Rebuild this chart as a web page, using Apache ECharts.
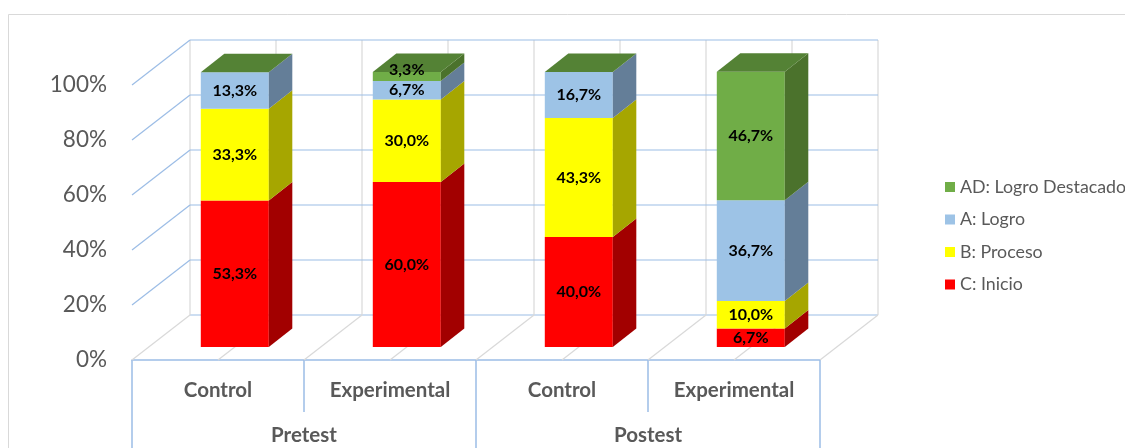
<!DOCTYPE html>
<html>
<head>
<meta charset="utf-8">
<script src="https://cdn.jsdelivr.net/npm/echarts@6/dist/echarts.min.js"></script>
<style>
html,body{margin:0;padding:0;background:#fff;}
#chart{width:1125px;height:448px;}
</style>
</head>
<body>
<div id="chart"></div>
<script>
// ---- data ----
const categories = ['Control', 'Experimental', 'Control', 'Experimental'];
const groups = ['Pretest', 'Postest'];
const seriesNames = ['C: Inicio', 'B: Proceso', 'A: Logro', 'AD: Logro Destacado'];
const inicio = [53.3, 60.0, 40.0, 6.7];
const proceso = [33.3, 30.0, 43.3, 10.0];
const logro = [13.3, 6.7, 16.7, 36.7];
const destacado = [0, 3.3, 0, 46.7];
const yTicks = [0, 20, 40, 60, 80, 100];

// ---- styles ----
const frontColors = ['#FF0000', '#FFFF00', '#9DC3E6', '#70AD47'];
const sideColors = ['#A20000', '#A6A600', '#647E98', '#4B722C'];
const topColor = '#548235';
const gridBlue = '#9CBDE6';
const floorGray = '#D9D9D9';
const textGray = '#595959';
const FONT = 'Lato, "Open Sans", sans-serif';

// 3D projection constants (pixels)
const DEPTH = [58, -45];
const BAR_OFF = [16.8, -13];
const BAR_DEPTH = [23.5, -18.5];
const BAR_W = 68;
const BACK_DIVS = 8;

const valueSets = [inicio, proceso, logro, destacado];

function fmt(v) { return v.toFixed(1).replace('.', ',') + '%'; }

function makeSeries(si) {
  const vals = valueSets[si];
  const data = vals.map((v, i) => {
    let base = 0;
    for (let k = 0; k < si; k++) base += valueSets[k][i];
    return [i, base, v];
  });
  return {
    name: seriesNames[si],
    type: 'custom',
    z: 10 + si,
    itemStyle: { color: frontColors[si] },
    data: data,
    encode: { x: 0, y: [1, 2] },
    renderItem: function (params, api) {
      const cat = api.value(0), base = api.value(1), val = api.value(2);
      const p0 = api.coord([cat, base]);
      const p1 = api.coord([cat, base + val]);
      const cx = p0[0] + BAR_OFF[0];
      const x1 = cx - BAR_W / 2, x2 = cx + BAR_W / 2;
      const y0 = p0[1] + BAR_OFF[1];
      const y1 = p1[1] + BAR_OFF[1];
      const sx = BAR_DEPTH[0], sy = BAR_DEPTH[1];
      const children = [
        { type: 'rect', shape: { x: x1, y: y1, width: BAR_W, height: y0 - y1 },
          style: { fill: frontColors[si] } },
        { type: 'polygon', shape: { points: [[x2, y1], [x2 + sx, y1 + sy], [x2 + sx, y0 + sy], [x2, y0]] },
          style: { fill: sideColors[si] } }
      ];
      if (si === valueSets.length - 1) {
        children.push({ type: 'polygon',
          shape: { points: [[x1, y1], [x2, y1], [x2 + sx, y1 + sy], [x1 + sx, y1 + sy]] },
          style: { fill: topColor } });
      }
      if (val > 0) {
        let ty = (y0 + y1) / 2;
        if (y0 - y1 < 12) ty -= 7;
        children.push({ type: 'text', z2: 50,
          style: { text: fmt(val), x: cx, y: ty, align: 'center', verticalAlign: 'middle',
            font: 'bold 16px ' + FONT, fill: '#000' } });
      }
      return { type: 'group', children: children };
    }
  };
}

const wallSeries = {
  type: 'custom',
  name: 'walls',
  z: 1,
  silent: true,
  data: yTicks.map(v => [0, v]),
  encode: { x: 0, y: 1 },
  renderItem: function (params, api) {
    const cs = params.coordSys;
    const v = api.value(1);
    const y = api.coord([0, v])[1];
    const left = cs.x, right = cs.x + cs.width;
    const children = [];
    children.push({ type: 'line', shape: { x1: left + DEPTH[0], y1: y + DEPTH[1], x2: right + DEPTH[0], y2: y + DEPTH[1] },
      style: { stroke: gridBlue, lineWidth: 1.2 } });
    if (v > 0) {
      children.push({ type: 'line', shape: { x1: left, y1: y, x2: left + DEPTH[0], y2: y + DEPTH[1] },
        style: { stroke: gridBlue, lineWidth: 1.2 } });
    }
    if (params.dataIndex === 0) {
      const yTop = api.coord([0, yTicks[yTicks.length - 1]])[1];
      for (let k = 0; k <= BACK_DIVS; k++) {
        const fx = left + (right - left) * k / BACK_DIVS;
        children.push({ type: 'line', shape: { x1: fx, y1: y, x2: fx + DEPTH[0], y2: y + DEPTH[1] },
          style: { stroke: floorGray, lineWidth: 1.2 } });
        children.push({ type: 'line', shape: { x1: fx + DEPTH[0], y1: y + DEPTH[1], x2: fx + DEPTH[0], y2: yTop + DEPTH[1] },
          style: { stroke: floorGray, lineWidth: 1.2 } });
      }
    }
    return { type: 'group', children: children };
  }
};

const chart = echarts.init(document.getElementById('chart'));
chart.setOption({
  animation: false,
  backgroundColor: '#fff',
  graphic: [{
    type: 'rect', z: 0, silent: true,
    shape: { x: 8.5, y: 14.5, width: 1130, height: 450 },
    style: { fill: 'none', stroke: '#D9D9D9', lineWidth: 1 }
  }],
  grid: { left: 132, top: 85, width: 688, height: 275 },
  legend: {
    orient: 'vertical',
    left: 940,
    top: 173,
    itemWidth: 10,
    itemHeight: 10,
    itemGap: 14.5,
    icon: 'rect',
    data: [seriesNames[3], seriesNames[2], seriesNames[1], seriesNames[0]],
    textStyle: { color: textGray, fontSize: 17.8, fontFamily: FONT, lineHeight: 18, padding: [0, 0, 0, 0] }
  },
  xAxis: [{
    type: 'category',
    data: categories,
    position: 'bottom',
    axisLine: { show: true, lineStyle: { color: gridBlue, width: 1.5 } },
    axisTick: { show: true, length: 52, lineStyle: { color: gridBlue, width: 1.5 } },
    axisLabel: { interval: 0, margin: 20, color: textGray, fontWeight: 'bold', fontSize: 20.5, fontFamily: FONT },
    splitLine: { show: false }
  }, {
    type: 'category',
    data: groups,
    position: 'bottom',
    offset: 0,
    axisLine: { show: false },
    axisTick: { show: true, length: 92, lineStyle: { color: gridBlue, width: 1.5 } },
    axisLabel: { interval: 0, margin: 65, color: textGray, fontWeight: 'bold', fontSize: 20.5, fontFamily: FONT },
    splitLine: { show: false }
  }],
  yAxis: {
    type: 'value',
    min: 0,
    max: 100,
    interval: 20,
    axisLine: { show: false },
    axisTick: { show: false },
    splitLine: { show: false },
    axisLabel: { formatter: '{value}%', margin: 25, color: textGray, fontSize: 22.5, fontFamily: FONT }
  },
  series: [wallSeries, makeSeries(0), makeSeries(1), makeSeries(2), makeSeries(3)]
});
</script>
</body>
</html>
